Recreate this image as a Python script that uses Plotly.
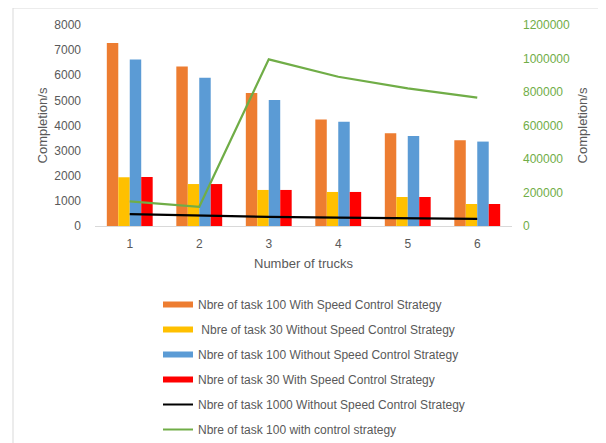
import plotly.graph_objects as go

trucks = [1, 2, 3, 4, 5, 6]
tick_labels = ["1", "2", "3", "4", "5", "6"]

names = [
    "Nbre of task 100 With Speed Control Strategy",
    " Nbre of task 30 Without Speed Control Strategy",
    "Nbre of task 100 Without Speed Control Strategy",
    "Nbre of task 30 With Speed Control Strategy",
    "Nbre of task 1000 Without Speed Control Strategy",
    "Nbre of task 100 with control strategy",
]

task100_with_speed = [7280, 6350, 5290, 4235, 3690, 3415]
task30_without_speed = [1940, 1670, 1435, 1355, 1155, 875]
task100_without_speed = [6625, 5900, 5010, 4145, 3585, 3360]
task30_with_speed = [1950, 1670, 1435, 1355, 1155, 875]
task1000_without_speed = [470, 410, 360, 330, 290, 280]
task100_with_control = [147000, 115000, 995000, 891000, 822000, 766000]

bar_series = [task100_with_speed, task30_without_speed, task100_without_speed, task30_with_speed]
bar_colors = ["#ED7D31", "#FFC000", "#5B9BD5", "#FF0000"]

FONT = "Liberation Sans"
GRAY = "#595959"
GREEN = "#70AD47"

fig = go.Figure()

for i, (vals, col) in enumerate(zip(bar_series, bar_colors)):
    fig.add_trace(go.Bar(x=trucks, y=vals, marker=dict(color=col, line=dict(width=0)),
                         name=names[i], showlegend=False, yaxis="y"))

fig.add_trace(go.Scatter(x=trucks, y=task1000_without_speed, mode="lines",
                         line=dict(color="#000000", width=2.2), name=names[4],
                         showlegend=False, yaxis="y"))
fig.add_trace(go.Scatter(x=trucks, y=task100_with_control, mode="lines",
                         line=dict(color=GREEN, width=2.2), name=names[5],
                         showlegend=False, yaxis="y2"))

# legend entries (wide swatches like the reference)
legend_colors = bar_colors + ["#000000", GREEN]
legend_widths = [6, 6, 6, 6, 2, 2]
for i, (nm, col, w) in enumerate(zip(names, legend_colors, legend_widths)):
    fig.add_trace(go.Scatter(x=[None], y=[None], mode="lines",
                             line=dict(color=col, width=w), name=nm,
                             legendgroup="g%d" % i, showlegend=True, yaxis="y"))

# page body has an 8px default margin; work in figure coordinates
OFF = 8
L, R, T, B = 95 - OFF, 512 - OFF, 25 - OFF, 226 - OFF
W, H = 606, 443
pw, ph = R - L, B - T

def px_x(p):
    return (p - OFF - L) / pw

def px_y(p):
    return (B - (p - OFF)) / ph

fig.update_layout(
    width=W, height=H,
    margin=dict(l=L, r=W - R, t=T, b=H - B, pad=0, autoexpand=False),
    paper_bgcolor="white", plot_bgcolor="white",
    font=dict(family=FONT, size=12, color=GRAY),
    barmode="group", bargap=0.34, bargroupgap=0,
    xaxis=dict(range=[0.5, 6.5], tickvals=trucks, ticktext=tick_labels,
               showgrid=False, zeroline=False, showline=True, linecolor="#D9D9D9",
               linewidth=1, ticks="", ticklabelstandoff=7, automargin=False,
               tickfont=dict(size=12, color=GRAY),
               title=dict(text="Number of trucks", font=dict(size=13, color=GRAY), standoff=8)),
    yaxis=dict(range=[0, 8000], dtick=1000, showgrid=False, zeroline=False,
               showline=False, ticks="", ticklabelstandoff=13, automargin=False,
               tickfont=dict(size=12, color=GRAY),
               title=dict(text="Completion/s", font=dict(size=13, color=GRAY), standoff=3)),
    yaxis2=dict(range=[0, 1200000], dtick=200000, overlaying="y", side="right",
                showgrid=False, zeroline=False, showline=False, ticks="",
                ticklabelstandoff=10, tickformat="d", automargin=False,
                tickfont=dict(size=12, color=GREEN),
                title=dict(text="Completion/s", font=dict(size=13, color=GRAY), standoff=8)),
    showlegend=True,
    legend=dict(x=px_x(158), xanchor="left", y=px_y(290), yanchor="top",
                orientation="v", traceorder="grouped", tracegroupgap=6,
                itemwidth=30, font=dict(size=12, color=GRAY),
                bgcolor="rgba(0,0,0,0)", borderwidth=0),
    shapes=[
        dict(type="line", xref="paper", yref="paper", x0=px_x(13), x1=px_x(620),
             y0=px_y(8), y1=px_y(8), line=dict(color="#D9D9D9", width=1)),
        dict(type="line", xref="paper", yref="paper", x0=px_x(13), x1=px_x(13),
             y0=px_y(8), y1=px_y(460), line=dict(color="#D9D9D9", width=1)),
    ],
)

fig.write_html("out.html")
